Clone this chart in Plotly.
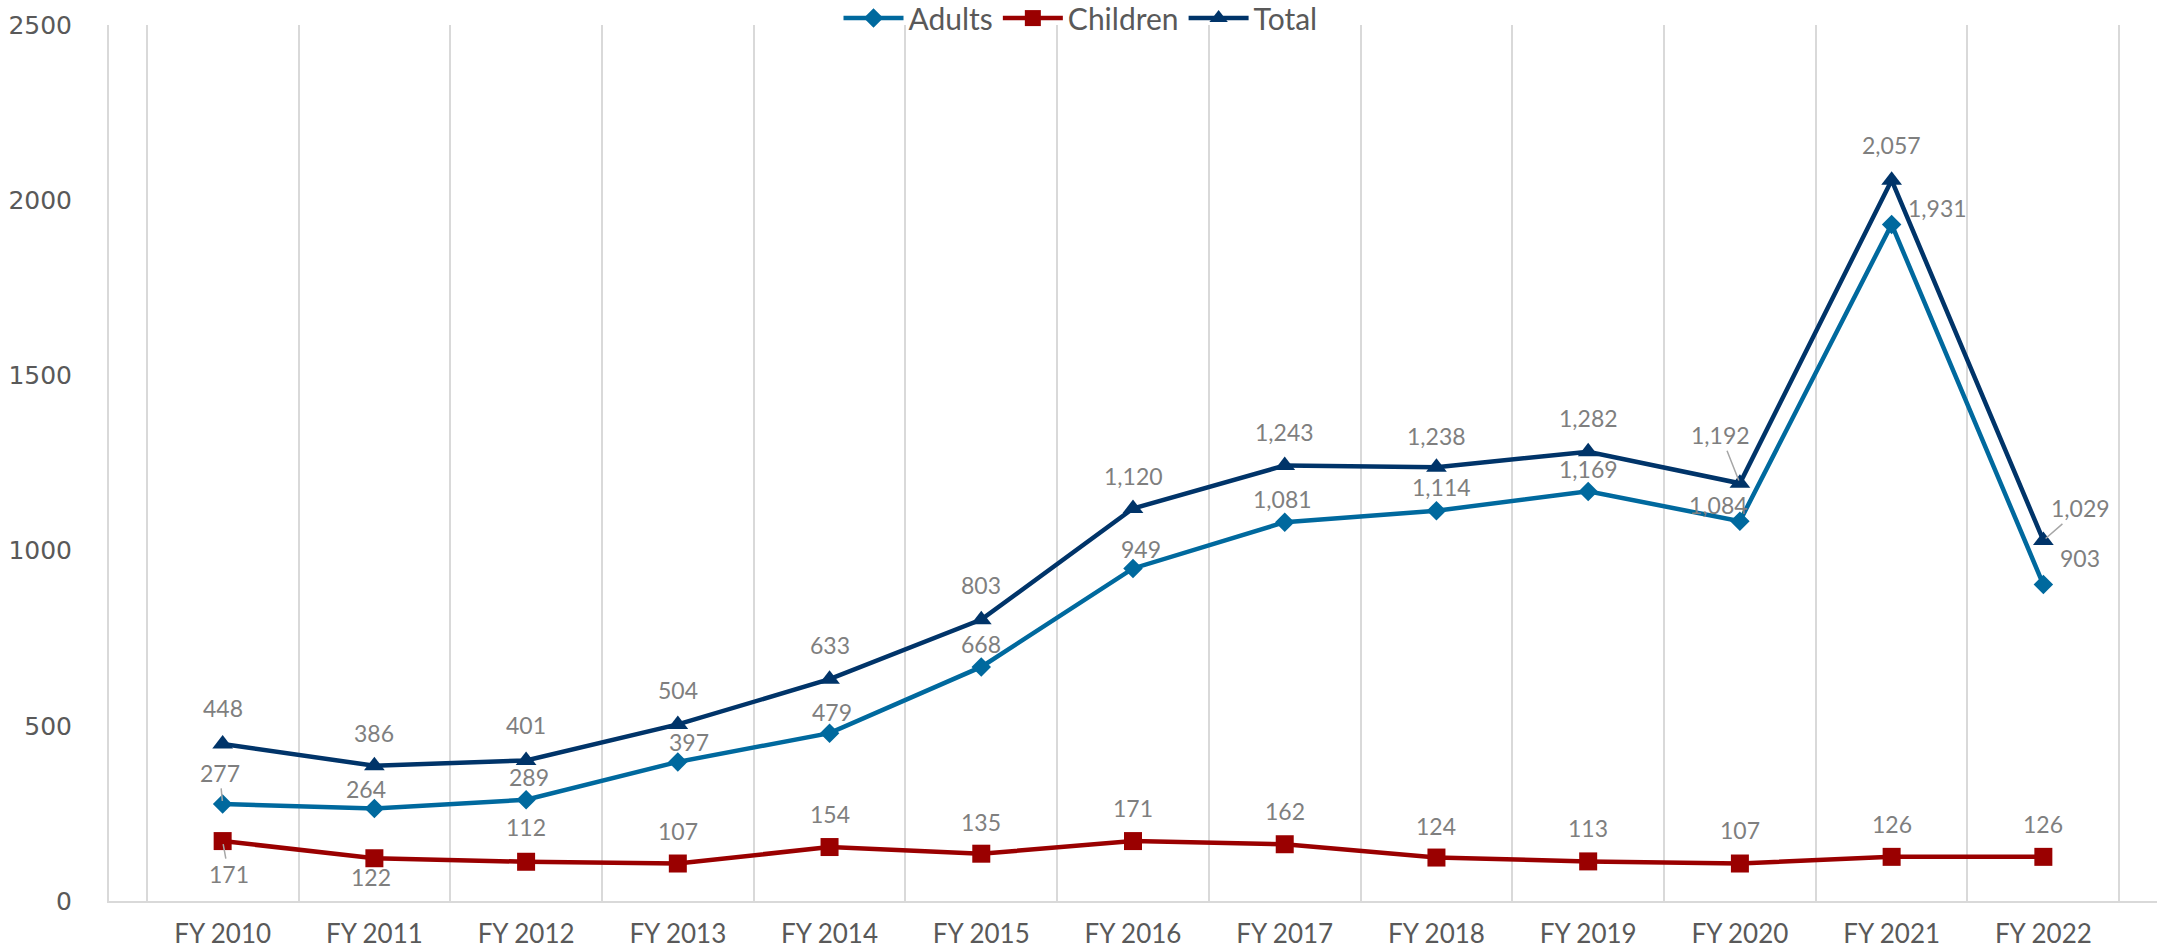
import plotly.graph_objects as go

categories = ["FY 2010", "FY 2011", "FY 2012", "FY 2013", "FY 2014", "FY 2015", "FY 2016",
              "FY 2017", "FY 2018", "FY 2019", "FY 2020", "FY 2021", "FY 2022"]
adults = [277, 264, 289, 397, 479, 668, 949, 1081, 1114, 1169, 1084, 1931, 903]
children = [171, 122, 112, 107, 154, 135, 171, 162, 124, 113, 107, 126, 126]
total = [448, 386, 401, 504, 633, 803, 1120, 1243, 1238, 1282, 1192, 2057, 1029]
y_ticks = [0, 500, 1000, 1500, 2000, 2500]

# label offsets in pixels (dx right, dy down) and leader-line flags
adults_off = [(-3, -31), (-8, -19), (3, -23), (11, -20), (2, -21), (0, -23), (8, -19),
              (-2, -23), (5, -24), (0, -22), (-21, -16), (46, -16), (37, -27)]
adults_leader = [True] + [False] * 12
children_off = [(6, 33), (-3, 19), (0, -35), (0, -33), (0, -33), (0, -32), (0, -33),
                (0, -33), (0, -32), (0, -33), (0, -34), (0, -33), (0, -33)]
children_leader = [True] + [False] * 12
total_off = [(0, -36), (0, -33), (0, -35), (0, -34), (0, -34), (0, -35), (0, -33),
             (0, -33), (0, -31), (0, -34), (-19, -48), (0, -35), (37, -32)]
total_leader = [False] * 10 + [True, False, True]

C_ADULT = "#00699E"
C_CHILD = "#9A0000"
C_TOTAL = "#003469"
LABEL_COLOR = "#7F7F7F"
GRID = "#D9D9D9"

fig = go.Figure()
fig.add_trace(go.Scatter(x=categories, y=adults, name="Adults", mode="lines+markers",
                         line=dict(color=C_ADULT, width=4.5),
                         marker=dict(symbol="diamond", size=15, color=C_ADULT)))
fig.add_trace(go.Scatter(x=categories, y=children, name="Children", mode="lines+markers",
                         line=dict(color=C_CHILD, width=4.5),
                         marker=dict(symbol="square", size=18, color=C_CHILD)))
fig.add_trace(go.Scatter(x=categories, y=total, name="Total", mode="lines+markers",
                         line=dict(color=C_TOTAL, width=4.5),
                         marker=dict(symbol="triangle-up", size=18, color=C_TOTAL)))

annotations = []
for vals, offs, leaders in [(adults, adults_off, adults_leader),
                            (children, children_off, children_leader),
                            (total, total_off, total_leader)]:
    for cat, v, (dx, dy), lead in zip(categories, vals, offs, leaders):
        if lead:
            annotations.append(dict(x=cat, y=v, text=f"{v:,}", showarrow=True,
                                    ax=dx, ay=dy, axref="pixel", ayref="pixel",
                                    arrowhead=0, arrowwidth=1.5, arrowcolor="#A6A6A6",
                                    standoff=3,
                                    font=dict(family="Lato", size=23, color=LABEL_COLOR)))
        else:
            annotations.append(dict(x=cat, y=v, text=f"{v:,}", showarrow=False,
                                    xshift=dx, yshift=-dy,
                                    font=dict(family="Lato", size=23, color=LABEL_COLOR)))

fig.update_layout(
    width=2161, height=952,
    margin=dict(l=109, r=4, t=25, b=51, autoexpand=False),
    paper_bgcolor="white", plot_bgcolor="white",
    showlegend=True,
    legend=dict(orientation="h", xref="container", yref="container",
                x=0.5, xanchor="center", y=0.981, yanchor="middle",
                font=dict(family="Lato", size=30, color="#595959"),
                itemwidth=60, bgcolor="rgba(0,0,0,0)", tracegroupgap=0),
    annotations=annotations,
)
fig.update_xaxes(type="category", tickson="boundaries", showgrid=True, gridcolor=GRID,
                 gridwidth=2, showline=True, linecolor=GRID, linewidth=2,
                 ticks="", ticklabelstandoff=9, automargin=False,
                 tickfont=dict(family="Lato", size=26, color="#595959"))
fig.update_yaxes(range=[0, 2500], tickvals=y_ticks, showgrid=False, zeroline=False,
                 showline=True, linecolor=GRID, linewidth=2, ticks="",
                 ticklabelstandoff=30, automargin=False,
                 tickfont=dict(family="DejaVu Sans", size=25, color="#595959"))

fig.write_html("out.html", config={"displayModeBar": False},
               post_script="document.body.style.margin='0';document.body.style.overflow='hidden';")
